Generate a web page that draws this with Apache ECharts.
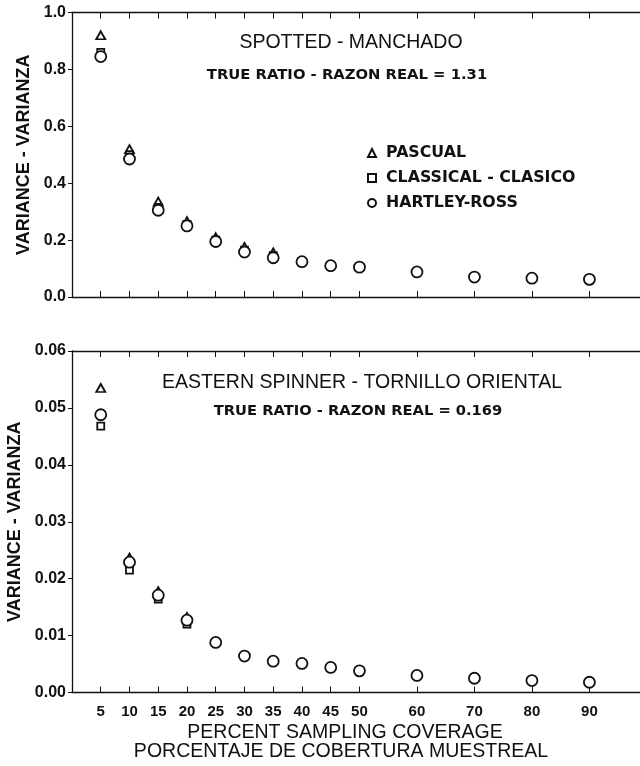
<!DOCTYPE html>
<html>
<head>
<meta charset="utf-8">
<script src="https://cdn.jsdelivr.net/npm/echarts@6/dist/echarts.min.js"></script>
<style>
  html, body { margin: 0; padding: 0; background: #fff; }
  #chart { width: 640px; height: 766px; }
</style>
</head>
<body>
<div id="chart"></div>
<script>
// percent sampling coverage (x positions of the points and tick labels)
const coverage = [5, 10, 15, 20, 25, 30, 35, 40, 45, 50, 60, 70, 80, 90];

// spotted - manchado
const spottedPascual = [0.92, 0.52, 0.335, 0.267, 0.21, 0.176, 0.157, null, null, null, null, null, null, null];
const spottedClassical = [0.86, 0.5, 0.315, 0.255, 0.2, 0.165, 0.145, null, null, null, null, null, null, null];
const spottedHartley = [0.845, 0.485, 0.305, 0.25, 0.195, 0.158, 0.138, 0.124, 0.11, 0.105, 0.088, 0.07, 0.066, 0.062];

// eastern spinner - tornillo oriental
const spinnerPascual = [0.0535, 0.0237, 0.0178, 0.0133, null, null, null, null, null, null, null, null, null, null];
const spinnerClassical = [0.0468, 0.0215, 0.0164, 0.012, null, null, null, null, null, null, null, null, null, null];
const spinnerHartley = [0.0488, 0.0229, 0.0171, 0.0127, 0.0088, 0.0064, 0.0055, 0.0051, 0.0044, 0.0038, 0.003, 0.0025, 0.0021, 0.0018];

const topTicks = [0, 0.2, 0.4, 0.6, 0.8, 1.0];
const bottomTicks = [0, 0.01, 0.02, 0.03, 0.04, 0.05, 0.06];

const FONT = "Liberation Sans";
const WIDE = "DejaVu Sans";
const INK = "#111";

function pairs(vals) {
  return coverage.map((x, i) => [x, vals[i]]).filter(p => p[1] !== null);
}

function xAxes(gridIndex, showLabels, pos) {
  return {
    type: "value",
    gridIndex: gridIndex,
    position: pos,
    min: 0,
    max: 98.8,
    splitLine: { show: false },
    axisLine: { show: true, onZero: false, lineStyle: { color: INK, width: 1.3 } },
    axisTick: { show: true, inside: true, length: 6, customValues: coverage, lineStyle: { color: INK } },
    axisLabel: {
      show: showLabels,
      customValues: coverage,
      margin: 12,
      color: INK,
      fontFamily: FONT,
      fontWeight: "bold",
      fontSize: 15
    }
  };
}

function yAxisLeft(gridIndex, max, ticks, digits) {
  return {
    type: "value",
    gridIndex: gridIndex,
    min: 0,
    max: max,
    name: "VARIANCE - VARIANZA",
    nameLocation: "middle",
    nameGap: 38,
    nameRotate: 90,
    nameTextStyle: { color: INK, fontFamily: FONT, fontWeight: "bold", fontSize: 18 },
    splitLine: { show: false },
    axisLine: { show: true, lineStyle: { color: INK, width: 1.3 } },
    axisTick: { show: true, inside: false, length: 4, customValues: ticks, lineStyle: { color: INK } },
    axisLabel: {
      customValues: ticks,
      margin: 6,
      color: INK,
      fontFamily: FONT,
      fontWeight: "bold",
      fontSize: 16,
      formatter: v => v.toFixed(digits)
    }
  };
}

function yAxisRight(gridIndex, max, ticks) {
  return {
    type: "value",
    gridIndex: gridIndex,
    position: "right",
    min: 0,
    max: max,
    splitLine: { show: false },
    axisLine: { show: false },
    axisTick: { show: true, inside: true, length: 4, customValues: ticks, lineStyle: { color: INK } },
    axisLabel: { show: false }
  };
}

function scatter(name, sym, size, xi, yi, vals) {
  return {
    name: name,
    type: "scatter",
    xAxisIndex: xi,
    yAxisIndex: yi,
    symbol: sym,
    symbolSize: size,
    itemStyle: { color: "#fff", borderColor: INK, borderWidth: 1.8, opacity: 1 },
    data: pairs(vals)
  };
}

function label(x, y, text, font) {
  return { type: "text", x: x, y: y, style: { text: text, fill: INK, font: font, align: "center", verticalAlign: "middle" } };
}

const chart = echarts.init(document.getElementById("chart"), null, { renderer: "canvas" });

chart.setOption({
  backgroundColor: "#fff",
  animation: false,
  grid: [
    { left: 72, right: 0, top: 12.5, height: 284.5, outerBoundsMode: "none" },
    { left: 72, right: 0, top: 351, height: 341.5, outerBoundsMode: "none" }
  ],
  xAxis: [
    xAxes(0, false, "bottom"),
    xAxes(0, false, "top"),
    xAxes(1, true, "bottom"),
    xAxes(1, false, "top")
  ],
  yAxis: [
    yAxisLeft(0, 1.0, topTicks, 1),
    yAxisRight(0, 1.0, topTicks),
    yAxisLeft(1, 0.06, bottomTicks, 2),
    yAxisRight(1, 0.06, bottomTicks)
  ],
  legend: {
    orient: "vertical",
    left: 362,
    top: 140,
    itemWidth: 8,
    itemHeight: 8,
    itemGap: 9,
    data: ["PASCUAL", "CLASSICAL - CLASICO", "HARTLEY-ROSS"],
    textStyle: { color: INK, fontFamily: WIDE, fontWeight: "bold", fontSize: 15.8, lineHeight: 16, padding: [0, 0, 0, 5] }
  },
  graphic: [
    label(351, 43, "SPOTTED - MANCHADO", "19.5px " + FONT),
    label(347, 75, "TRUE RATIO - RAZON REAL = 1.31", "bold 14.8px " + WIDE),
    label(362, 383, "EASTERN SPINNER - TORNILLO ORIENTAL", "19.5px " + FONT),
    label(358, 411, "TRUE RATIO - RAZON REAL = 0.169", "bold 14.7px " + WIDE),
    label(345, 733, "PERCENT SAMPLING COVERAGE", "19.5px " + FONT),
    label(341, 752, "PORCENTAJE DE COBERTURA MUESTREAL", "19.5px " + FONT)
  ],
  series: [
    scatter("PASCUAL", "triangle", [9, 8], 0, 0, spottedPascual),
    scatter("CLASSICAL - CLASICO", "rect", 7, 0, 0, spottedClassical),
    scatter("HARTLEY-ROSS", "circle", 11, 0, 0, spottedHartley),
    scatter("PASCUAL", "triangle", [9, 8], 2, 2, spinnerPascual),
    scatter("CLASSICAL - CLASICO", "rect", 7, 2, 2, spinnerClassical),
    scatter("HARTLEY-ROSS", "circle", 11, 2, 2, spinnerHartley)
  ]
});
</script>
</body>
</html>
